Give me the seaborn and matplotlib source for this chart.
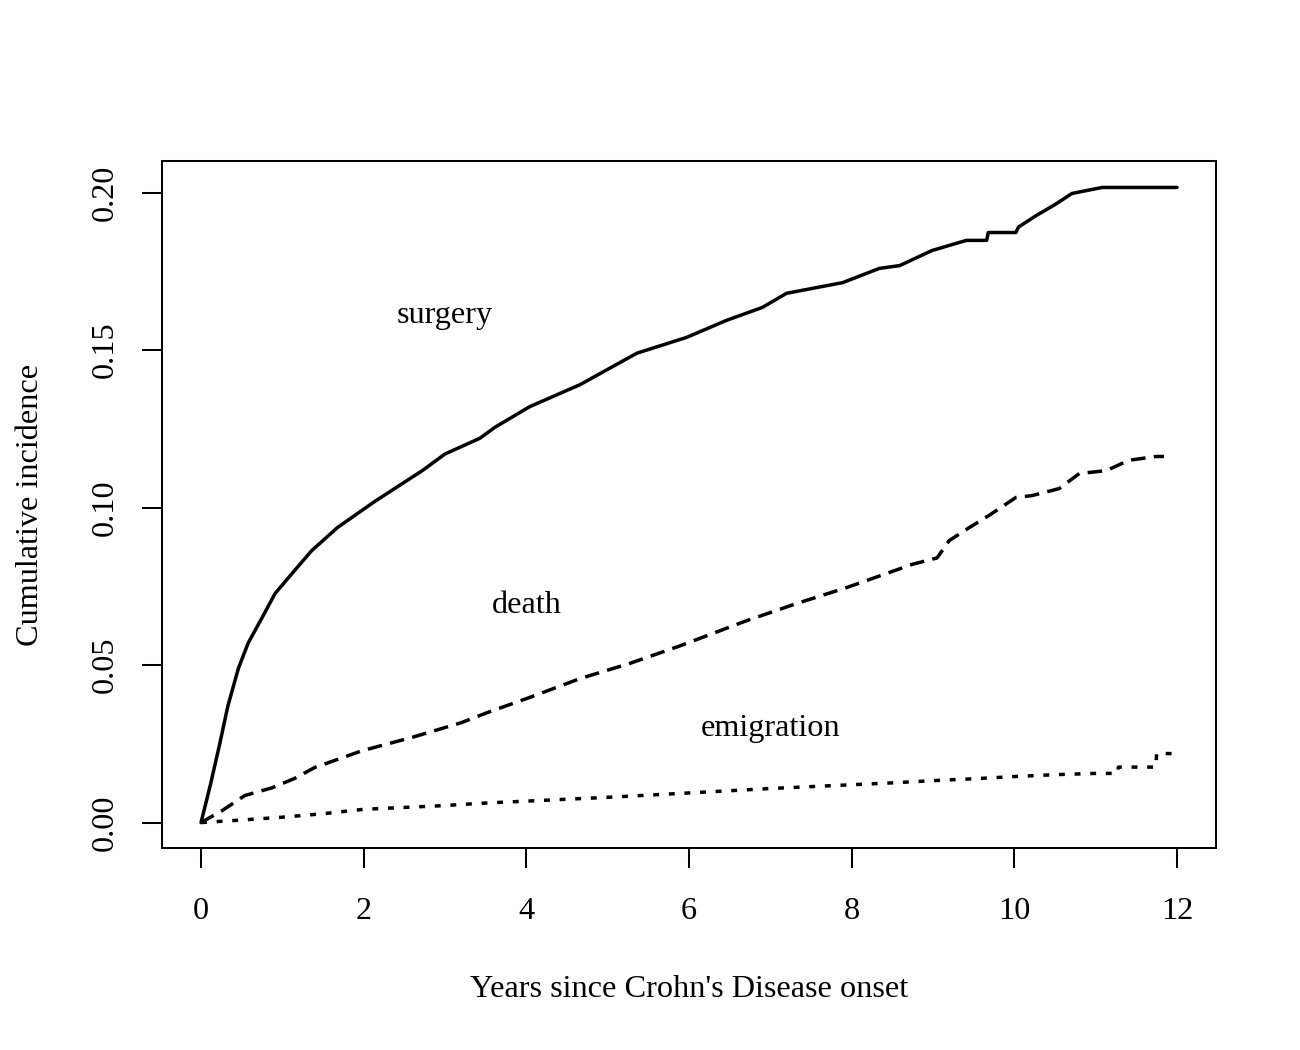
import matplotlib
matplotlib.use("Agg")
import matplotlib.pyplot as plt
import seaborn as sns
import pandas as pd

# ---- data ----
surgery_t = [0, 0.12, 0.23, 0.33, 0.46, 0.58, 0.75, 0.91, 1.15, 1.36, 1.68, 2.14, 2.72, 3.0,
             3.43, 3.61, 4.04, 4.66, 5.36, 5.97, 6.46, 6.9, 7.2, 7.89, 8.34, 8.59, 8.99, 9.41,
             9.66, 9.68, 10.02, 10.05, 10.27, 10.49, 10.71, 11.08, 12]
surgery_y = [0, 0.0125, 0.025, 0.037, 0.049, 0.057, 0.065, 0.0727, 0.080, 0.0863, 0.0937, 0.102,
             0.1117, 0.117, 0.122, 0.1254, 0.132, 0.139, 0.149, 0.154, 0.1594, 0.1635, 0.168,
             0.1714, 0.1759, 0.1768, 0.1816, 0.1848, 0.1848, 0.1873, 0.1873, 0.189, 0.1927,
             0.196, 0.1997, 0.2016, 0.2016]

death_t = [0, 0.26, 0.54, 0.87, 1.15, 1.4, 1.98, 2.59, 3.2, 3.53, 4.04, 4.66, 5.27, 5.88, 6.7,
           7.32, 7.94, 8.75, 9.05, 9.2, 9.45, 9.69, 10.02, 10.22, 10.55, 10.8, 11.13, 11.41,
           11.74, 11.84]
death_y = [0, 0.0038, 0.0086, 0.011, 0.014, 0.0175, 0.0228, 0.027, 0.0317, 0.035, 0.0397,
           0.0457, 0.0505, 0.056, 0.064, 0.0695, 0.0746, 0.082, 0.084, 0.0895, 0.0937, 0.0975,
           0.1032, 0.1038, 0.106, 0.1108, 0.1117, 0.115, 0.1162, 0.1162]

emig_t = [0, 0.5, 1, 1.5, 2, 2.5, 3, 3.5, 4, 4.5, 5, 5.5, 6, 6.5, 7, 7.5, 8, 8.5, 9, 9.5,
          10, 10.5, 11, 11.27, 11.28, 11.74, 11.75, 12]
emig_y = [0, 0.0008, 0.0017, 0.0028, 0.0042, 0.0048, 0.0054, 0.0062, 0.0068, 0.0074, 0.008,
          0.0087, 0.0094, 0.0101, 0.0108, 0.0114, 0.012, 0.0126, 0.0133, 0.0139, 0.0146,
          0.0152, 0.0156, 0.0156, 0.0176, 0.0176, 0.0219, 0.0219]

labels = ["surgery", "death", "emigration"]
label_t = [2.99, 4.0, 7.0]
label_y = [0.161, 0.0689, 0.030]

x_ticks = [0, 2, 4, 6, 8, 10, 12]
y_ticks = [0.00, 0.05, 0.10, 0.15, 0.20]
y_ticklabels = ["0.00", "0.05", "0.10", "0.15", "0.20"]

xlabel = "Years since Crohn's Disease onset"
ylabel = "Cumulative incidence"

# ---- build long table ----
df = pd.concat([
    pd.DataFrame({"t": surgery_t, "ci": surgery_y, "cause": "surgery"}),
    pd.DataFrame({"t": death_t, "ci": death_y, "cause": "death"}),
    pd.DataFrame({"t": emig_t, "ci": emig_y, "cause": "emigration"}),
], ignore_index=True)

sns.set_style("ticks")
plt.rcParams["font.family"] = ["Liberation Serif", "DejaVu Serif"]
plt.rcParams["text.color"] = "black"
plt.rcParams["axes.labelcolor"] = "black"

FS = 23.2
fig = plt.figure(figsize=(13, 10.5), dpi=100)
ax = fig.add_axes([162 / 1300, 1 - 848 / 1050, (1216 - 162) / 1300, (848 - 161) / 1050])

styles = {"surgery": "-", "death": (0, (4.2, 2.4)), "emigration": (0, (1.7, 2.8))}
for cause in labels:
    sub = df[df["cause"] == cause]
    sns.lineplot(data=sub, x="t", y="ci", ax=ax, color="black", linewidth=2.5,
                 linestyle=styles[cause], estimator=None, sort=False, legend=False)

for lab, lx, ly in zip(labels, label_t, label_y):
    ax.text(lx, ly, lab, ha="center", va="center", fontsize=FS, color="black")

ax.set_xlim(-0.48, 12.48)
ax.set_ylim(-0.00808, 0.21)
ax.set_xticks(x_ticks)
ax.set_xticklabels([str(v) for v in x_ticks])
ax.set_yticks(y_ticks)
ax.set_yticklabels(y_ticklabels, rotation=90, va="center")
ax.tick_params(axis="both", direction="out", length=14.4, width=1.45, labelsize=FS,
               color="black", labelcolor="black")
ax.tick_params(axis="x", pad=21)
ax.tick_params(axis="y", pad=16)
for s in ax.spines.values():
    s.set_linewidth(1.45)
    s.set_color("black")
    s.set_visible(True)

ax.set_xlabel(xlabel, fontsize=FS, labelpad=35, color="black")
ax.set_ylabel(ylabel, fontsize=FS, labelpad=33, color="black")
ax.grid(False)

fig.savefig("out.png", dpi=100, facecolor="white")
